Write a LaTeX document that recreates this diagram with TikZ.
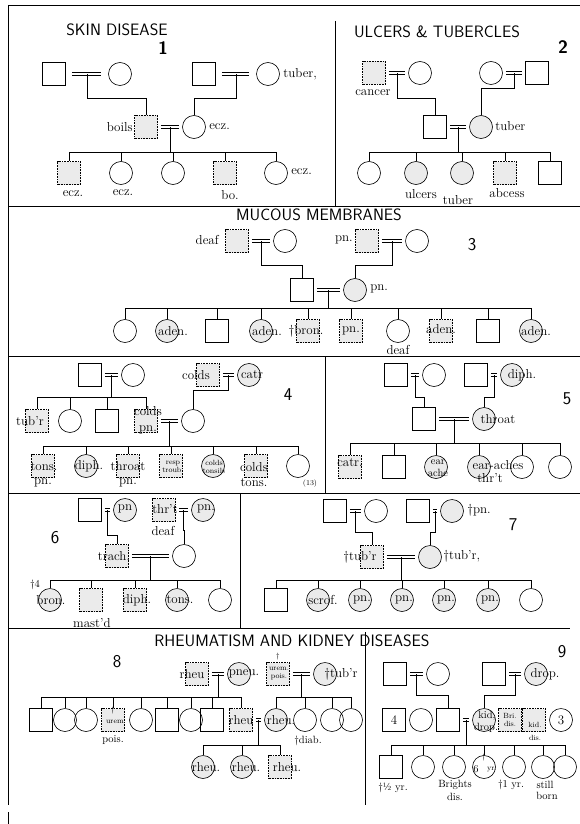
\documentclass[tikz,border=0pt]{standalone}
\usepackage{fontspec}
\usepackage{tikz}
\usetikzlibrary{calc}
\newcommand\pedlab{\fontsize{13}{13}\selectfont\addfontfeature{LetterSpace=7}}
\newcommand\pedmid{\fontsize{10.5}{12}\selectfont}
\newcommand\pedsml{\fontsize{7.5}{8}\selectfont}
\newcommand\pedttl{\sffamily\fontsize{16.5}{16.5}\selectfont\addfontfeature{LetterSpace=9}}

\begin{document}
\begin{tikzpicture}[
    x=1pt, y=-1pt, line width=0.6pt,
    sq/.style={draw, rectangle, minimum size=23pt, inner sep=0pt, font=\pedlab},
    sqa/.style={sq, fill=black!8, densely dotted},
    ci/.style={draw, circle, minimum size=23pt, inner sep=0pt, font=\pedlab},
    cia/.style={ci, fill=black!8},
    mar/.style={double, double distance=2.4pt, shorten <=3pt, shorten >=3pt},
    lab/.style={font=\pedlab, inner sep=0pt},
    mlab/.style={font=\pedmid, inner sep=0pt, align=center},
    slab/.style={font=\pedsml, inner sep=0pt, align=center},
    ttl/.style={font=\pedttl},
    num/.style={font=\sffamily\fontsize{18}{18}\selectfont},
    numb/.style={num, font=\sffamily\bfseries\fontsize{18}{18}\selectfont},
    rulebar/.style={line width=0.9pt}
]
\useasboundingbox (0,0) rectangle (580,824);

\draw[rulebar] (8,5) -- (580,5);
\draw[rulebar] (8,5) -- (8,805);
\draw[rulebar] (8,812) -- (8,824);
\draw[rulebar] (335,21) -- (335,206);
\draw[rulebar] (8,206) -- (580,206);
\draw[rulebar] (8,356) -- (580,356);
\draw[rulebar] (325,356) -- (325,493);
\draw[rulebar] (8,493) -- (580,493);
\draw[rulebar] (240,493) -- (240,628);
\draw[rulebar] (8,628) -- (570,628);
\draw[rulebar] (365,632) -- (365,805);

\node[ttl] (h1) at (117,30) {SKIN DISEASE};
\node[numb] (n1) at (163,48) {1};
\node[sq] (p1a) at (54,74) {};
\node[ci] (p1b) at (120,74) {};
\node[sq] (p1c) at (204,74) {};
\node[ci] (p1d) at (268,74) {};
\node[lab, anchor=west] (l1d) at (283,74) {tuber,};
\node[sqa] (p1e) at (146,127) {};
\node[lab, anchor=east] (l1e) at (133,127) {boils};
\node[ci] (p1f) at (194,127) {};
\node[lab, anchor=west] (l1f) at (209,127) {ecz.};
\node[sqa] (p1k1) at (69,173) {};
\node[lab] (l1k1) at (73,194) {ecz.};
\node[ci] (p1k2) at (121,173) {};
\node[lab] (l1k2) at (123,193) {ecz.};
\node[ci] (p1k3) at (173,173) {};
\node[sqa] (p1k4) at (225,173) {};
\node[lab] (l1k4) at (230,195) {bo.};
\node[ci] (p1k5) at (276,173) {};
\node[lab, anchor=west] (l1k5) at (291,172) {ecz.};
\coordinate (m1a) at ($(p1a)!.5!(p1b)$);
\coordinate (m1b) at ($(p1c)!.5!(p1d)$);
\coordinate (m1c) at ($(p1e)!.5!(p1f)$);
\coordinate (s1) at (0,152);
\draw[mar, shorten <=6pt, shorten >=7pt] (p1a) -- (p1b);
\draw[mar, shorten <=6pt, shorten >=7pt] (p1c) -- (p1d);
\draw[mar] (p1e) -- (p1f);
\draw (m1a) -- ++(0,24) -| (p1e.north);
\draw (m1b) -- ++(0,24) -| (p1f.north);
\draw (m1c) -- (m1c |- s1);
\draw (p1k1.north) -- (p1k1.north |- s1) -- (p1k5.north |- s1) -- (p1k5.north)
      (p1k2.north) -- (p1k2.north |- s1) (p1k3.north) -- (p1k3.north |- s1)
      (p1k4.north) -- (p1k4.north |- s1);

\node[ttl] (h2) at (437,32) {ULCERS \& TUBERCLES};
\node[numb] (n2) at (563,47) {2};
\node[sqa] (p2a) at (374,73) {};
\node[lab] (l2a) at (373,93) {cancer};
\node[ci] (p2b) at (420,73) {};
\node[ci] (p2c) at (491,73) {};
\node[sq] (p2d) at (537,73) {};
\node[sq] (p2e) at (435,127) {};
\node[cia] (p2f) at (481,127) {};
\node[lab, anchor=west] (l2f) at (495,126) {tuber};
\node[ci] (p2k1) at (369,173) {};
\node[cia] (p2k2) at (416,173) {};
\node[lab] (l2k2) at (421,194) {ulcers};
\node[cia] (p2k3) at (462,173) {};
\node[lab] (l2k3) at (458,200) {tuber};
\node[sqa] (p2k4) at (505,173) {};
\node[lab] (l2k4) at (507,193) {abcess};
\node[sq] (p2k5) at (550,173) {};
\coordinate (m2a) at ($(p2a)!.5!(p2b)$);
\coordinate (m2b) at ($(p2c)!.5!(p2d)$);
\coordinate (m2c) at ($(p2e)!.5!(p2f)$);
\coordinate (s2) at (0,152);
\draw[mar] (p2a) -- (p2b);
\draw[mar] (p2c) -- (p2d);
\draw[mar] (p2e) -- (p2f);
\draw (m2a) -- ++(0,25) -| (p2e.north);
\draw (m2b) -- ++(0,15) -| (p2f.north);
\draw (m2c) -- (m2c |- s2);
\draw (p2k1.north) -- (p2k1.north |- s2) -- (p2k5.north |- s2) -- (p2k5.north)
      (p2k2.north) -- (p2k2.north |- s2) (p2k3.north) -- (p2k3.north |- s2)
      (p2k4.north) -- (p2k4.north |- s2);

\node[ttl] (h3) at (319,215) {MUCOUS MEMBRANES};
\node[num] (n3) at (472,245) {3};
\node[sqa] (p3a) at (237,241) {};
\node[lab, anchor=east] (l3a) at (219,240) {deaf};
\node[ci] (p3b) at (285,241) {};
\node[sqa] (p3c) at (367,241) {};
\node[lab, anchor=east] (l3c) at (353,240) {pn.};
\node[ci] (p3d) at (417,241) {};
\node[sq] (p3e) at (302,290) {};
\node[cia] (p3f) at (355,290) {};
\node[lab, anchor=west] (l3f) at (370,289) {pn.};
\node[ci] (p3k1) at (125,331) {};
\node[cia] (p3k2) at (167,331) {};
\node[lab] (l3k2) at (173,331) {aden.};
\node[sq] (p3k3) at (217,331) {};
\node[cia] (p3k4) at (261,331) {};
\node[lab] (l3k4) at (267,331) {aden.};
\node[sqa] (p3k5) at (308,331) {};
\node[lab] (l3k5) at (306,331) {\dag bron.};
\node[sqa] (p3k6) at (351,331) {pn.};
\node[ci] (p3k7) at (398,331) {};
\node[lab] (l3k7) at (398,350) {deaf};
\node[sqa] (p3k8) at (441,331) {};
\node[lab] (l3k8) at (441,329) {aden.};
\node[sq] (p3k9) at (488,331) {};
\node[cia] (p3k10) at (531,331) {};
\node[lab] (l3k10) at (536,331) {aden.};
\coordinate (m3a) at ($(p3a)!.5!(p3b)$);
\coordinate (m3b) at ($(p3c)!.5!(p3d)$);
\coordinate (m3c) at ($(p3e)!.5!(p3f)$);
\coordinate (s3) at (0,308);
\draw[mar] (p3a) -- (p3b);
\draw[mar] (p3c) -- (p3d);
\draw[mar] (p3e) -- (p3f);
\draw (m3a) -- ++(0,24) -| (p3e.north);
\draw (m3b) -- ++(0,24) -| (p3f.north);
\draw (m3c) -- (m3c |- s3);
\draw (p3k1.north) -- (p3k1.north |- s3) -- (p3k10.north |- s3) -- (p3k10.north)
      (p3k2.north) -- (p3k2.north |- s3) (p3k3.north) -- (p3k3.north |- s3)
      (p3k4.north) -- (p3k4.north |- s3) (p3k5.north) -- (p3k5.north |- s3)
      (p3k6.north) -- (p3k6.north |- s3) (p3k7.north) -- (p3k7.north |- s3)
      (p3k8.north) -- (p3k8.north |- s3) (p3k9.north) -- (p3k9.north |- s3);

\node[num] (n4) at (288,395) {4};
\node[sq] (p4a) at (90,375) {};
\node[ci] (p4b) at (133,375) {};
\node[sqa] (p4c) at (208,375) {};
\node[lab] (l4c) at (196,375) {colds};
\node[cia] (p4d) at (249,375) {};
\node[lab] (l4d) at (252,375) {catr};
\node[sqa] (p4e) at (37,421) {};
\node[lab] (l4e) at (30,421) {tub'r};
\node[ci] (p4f) at (70,421) {};
\node[sq] (p4g) at (107,421) {};
\node[sqa] (p4h) at (146,421) {};
\node[lab] (l4h) at (148,411) {colds};
\node[lab] (l4h2) at (148,430) {pn.};
\node[ci] (p4i) at (193,421) {};
\node[sqa] (p4k1) at (43,466) {};
\node[lab] (l4k1) at (44,467) {tons.};
\node[lab] (l4k1b) at (43,483) {pn.};
\node[cia] (p4k2) at (86,466) {};
\node[lab] (l4k2) at (89,466) {diph.};
\node[sqa] (p4k3) at (128,466) {};
\node[lab] (l4k3) at (128,466) {throat};
\node[lab] (l4k3b) at (128,483) {pn.};
\node[sqa] (p4k4) at (171,466) {};
\node[slab] (l4k4) at (173,467) {resp\\troub.};
\node[cia] (p4k5) at (213,466) {};
\node[slab] (l4k5) at (214,467) {colds\\tonsils};
\node[sqa] (p4k6) at (256,466) {};
\node[lab] (l4k6) at (254,467) {colds};
\node[lab] (l4k6b) at (254,483) {tons.};
\node[ci] (p4k7) at (298,466) {};
\node[slab] (l4k7) at (310,484) {(13)};
\coordinate (m4a) at ($(p4a)!.5!(p4b)$);
\coordinate (m4b) at ($(p4c)!.5!(p4d)$);
\coordinate (m4c) at ($(p4h)!.5!(p4i)$);
\coordinate (s4a) at (0,397);
\coordinate (s4b) at (0,446);
\draw[mar] (p4a) -- (p4b);
\draw[mar] (p4c) -- (p4d);
\draw[mar] (p4h) -- (p4i);
\draw (m4a) -- (m4a |- s4a);
\draw (p4e.north) -- (p4e.north |- s4a) -- (p4h.north |- s4a) -- (p4h.north)
      (p4f.north) -- (p4f.north |- s4a) (p4g.north) -- (p4g.north |- s4a);
\draw (m4b) -- ++(0,15) -| (p4i.north);
\draw (m4c) -- (m4c |- s4b);
\draw (p4k1.north) -- (p4k1.north |- s4b) -- (p4k7.north |- s4b) -- (p4k7.north)
      (p4k2.north) -- (p4k2.north |- s4b) (p4k3.north) -- (p4k3.north |- s4b)
      (p4k4.north) -- (p4k4.north |- s4b) (p4k5.north) -- (p4k5.north |- s4b)
      (p4k6.north) -- (p4k6.north |- s4b);

\node[num] (n5) at (567,399) {5};
\node[sq] (p5a) at (396,375) {};
\node[ci] (p5b) at (434,375) {};
\node[sq] (p5c) at (476,375) {};
\node[cia] (p5d) at (512,375) {};
\node[lab] (l5d) at (522,375) {diph.};
\node[sq] (p5e) at (424,419) {};
\node[cia] (p5f) at (484,419) {};
\node[lab] (l5f) at (498,419) {throat};
\node[sqa] (p5k1) at (350,467) {};
\node[lab] (l5k1) at (350,463) {catr.};
\node[sq] (p5k2) at (394,467) {};
\node[cia] (p5k3) at (436,467) {};
\node[mlab] (l5k3) at (438,468) {ear\\ache};
\node[cia] (p5k4) at (479,467) {};
\node[lab] (l5k4) at (498,465) {ear-aches};
\node[lab] (l5k4b) at (490,478) {thr't};
\node[ci] (p5k5) at (522,467) {};
\node[ci] (p5k6) at (560,467) {};
\coordinate (m5a) at ($(p5a)!.5!(p5b)$);
\coordinate (m5b) at ($(p5c)!.5!(p5d)$);
\coordinate (m5c) at ($(p5e)!.5!(p5f)$);
\coordinate (s5) at (0,443);
\draw[mar] (p5a) -- (p5b);
\draw[mar] (p5c) -- (p5d);
\draw[mar] (p5e) -- (p5f);
\draw (m5a) -- ++(0,22) -| (p5e.north);
\draw (m5b) -- ++(0,22) -| (p5f.north);
\draw (m5c) -- (m5c |- s5);
\draw (p5k1.north) -- (p5k1.north |- s5) -- (p5k6.north |- s5) -- (p5k6.north)
      (p5k2.north) -- (p5k2.north |- s5) (p5k3.north) -- (p5k3.north |- s5)
      (p5k4.north) -- (p5k4.north |- s5) (p5k5.north) -- (p5k5.north |- s5);

\node[num] (n6) at (55,538) {6};
\node[sq] (p6a) at (90,510) {};
\node[cia] (p6b) at (125,510) {};
\node[lab] (l6b) at (125,509) {pn};
\node[sqa] (p6c) at (164,510) {};
\node[lab] (l6c) at (165,509) {thr't};
\node[lab] (l6c2) at (163,531) {deaf};
\node[cia] (p6d) at (203,510) {};
\node[lab] (l6d) at (206,509) {pn.};
\node[sqa] (p6e) at (117,556) {};
\node[lab] (l6e) at (114,556) {trach.};
\node[ci] (p6f) at (184,556) {};
\node[cia] (p6k1) at (50,600) {};
\node[lab] (l6k1) at (51,600) {bron.};
\node[mlab] (l6k1b) at (35,585) {\dag 4};
\node[sqa] (p6k2) at (91,600) {};
\node[lab] (l6k2) at (92,623) {mast'd};
\node[sqa] (p6k3) at (135,600) {};
\node[lab] (l6k3) at (137,600) {diph.};
\node[cia] (p6k4) at (177,600) {};
\node[lab] (l6k4) at (180,600) {tons.};
\node[ci] (p6k5) at (220,600) {};
\coordinate (m6a) at ($(p6a)!.5!(p6b)$);
\coordinate (m6b) at ($(p6c)!.5!(p6d)$);
\coordinate (m6c) at ($(p6e)!.5!(p6f)$);
\coordinate (s6) at (0,580);
\draw[mar] (p6a) -- (p6b);
\draw[mar] (p6c) -- (p6d);
\draw[mar] (p6e) -- (p6f);
\draw (m6a) -- ++(0,25) -| (p6e.north);
\draw (m6b) -- ++(0,20) -| (p6f.north);
\draw (m6c) -- (m6c |- s6);
\draw (p6k1.north) -- (p6k1.north |- s6) -- (p6k5.north |- s6) -- (p6k5.north)
      (p6k2.north) -- (p6k2.north |- s6) (p6k3.north) -- (p6k3.north |- s6)
      (p6k4.north) -- (p6k4.north |- s6);

\node[num] (n7) at (513,525) {7};
\node[sq] (p7a) at (335,511) {};
\node[ci] (p7b) at (376,511) {};
\node[sq] (p7c) at (418,511) {};
\node[cia] (p7d) at (452,511) {};
\node[lab, anchor=west] (l7d) at (467,510) {\dag pn.};
\node[sqa] (p7e) at (372,557) {};
\node[lab] (l7e) at (360,557) {\dag tub'r};
\node[cia] (p7f) at (430,557) {};
\node[lab, anchor=west] (l7f) at (443,556) {\dag tub'r,};
\node[sq] (p7k1) at (276,600) {};
\node[cia] (p7k2) at (318,600) {};
\node[lab] (l7k2) at (323,600) {scrof.};
\node[cia] (p7k3) at (360,600) {};
\node[lab] (l7k3) at (362,600) {pn.};
\node[cia] (p7k4) at (402,600) {};
\node[lab] (l7k4) at (404,600) {pn.};
\node[cia] (p7k5) at (444,600) {};
\node[lab] (l7k5) at (446,600) {pn.};
\node[cia] (p7k6) at (488,600) {};
\node[lab] (l7k6) at (490,600) {pn.};
\node[ci] (p7k7) at (531,600) {};
\coordinate (m7a) at ($(p7a)!.5!(p7b)$);
\coordinate (m7b) at ($(p7c)!.5!(p7d)$);
\coordinate (m7c) at ($(p7e)!.5!(p7f)$);
\coordinate (s7) at (0,580);
\draw[mar] (p7a) -- (p7b);
\draw[mar] (p7c) -- (p7d);
\draw[mar] (p7e) -- (p7f);
\draw (m7a) -- ++(0,21) -| (p7e.north);
\draw (m7b) -- ++(0,21) -| (p7f.north);
\draw (m7c) -- (m7c |- s7);
\draw (p7k1.north) -- (p7k1.north |- s7) -- (p7k7.north |- s7) -- (p7k7.north)
      (p7k2.north) -- (p7k2.north |- s7) (p7k3.north) -- (p7k3.north |- s7)
      (p7k4.north) -- (p7k4.north |- s7) (p7k5.north) -- (p7k5.north |- s7)
      (p7k6.north) -- (p7k6.north |- s7);

\node[ttl] (h8) at (292,641) {RHEUMATISM AND KIDNEY DISEASES};
\node[num] (n8) at (117,662) {8};
\node[sqa] (p8a) at (197,674) {};
\node[lab] (l8a) at (192,674) {rheu};
\node[cia] (p8b) at (239,674) {};
\node[lab] (l8b) at (244,674) {pneu.};
\node[sqa] (p8c) at (278,674) {};
\node[slab] (l8c) at (279,674) {urem.\\pois.};
\node[slab] (l8c2) at (278,657) {\dag};
\node[cia] (p8d) at (325,674) {};
\node[lab] (l8d) at (341,674) {\dag tub'r};
\node[sq] (p8k1) at (41,720) {};
\node[ci] (p8k2) at (65,720) {};
\node[ci] (p8k3) at (86,720) {};
\node[sqa] (p8k4) at (113,720) {};
\node[slab] (l8k4) at (113,711) {\dag};
\node[slab] (l8k4b) at (116,722) {urem.};
\node[mlab] (l8k4c) at (113,740) {pois.};
\node[ci] (p8k5) at (141,720) {};
\node[sq] (p8k6) at (167,720) {};
\node[ci] (p8k7) at (191,720) {};
\node[sq] (p8k8) at (212,720) {};
\node[sqa] (p8k9) at (241,720) {};
\node[lab] (l8k9) at (241,720) {rheu};
\node[cia] (p8l1) at (276,720) {};
\node[lab] (l8l1) at (281,720) {rheu.};
\node[ci] (p8l2) at (305,720) {};
\node[mlab] (l8l2) at (308,741) {\dag diab.};
\node[ci] (p8l3) at (332,720) {};
\node[ci] (p8l4) at (351,720) {};
\node[cia] (p8m1) at (203,767) {};
\node[lab] (l8m1) at (206,767) {rheu.};
\node[cia] (p8m2) at (242,767) {};
\node[lab] (l8m2) at (246,767) {rheu.};
\node[sqa] (p8m3) at (280,767) {};
\node[lab] (l8m3) at (287,767) {rheu.};
\coordinate (m8a) at ($(p8a)!.5!(p8b)$);
\coordinate (m8b) at ($(p8c)!.5!(p8d)$);
\coordinate (m8c) at ($(p8k9)!.5!(p8l1)$);
\coordinate (s8a) at (0,697);
\coordinate (s8b) at (0,745);
\draw[mar] (p8a) -- (p8b);
\draw[mar] (p8c) -- (p8d);
\draw[mar] (p8k9) -- (p8l1);
\draw (m8a) -- (m8a |- s8a);
\draw (p8k1.north) -- (p8k1.north |- s8a) -- (p8k9.north |- s8a) -- (p8k9.north)
      (p8k2.north) -- (p8k2.north |- s8a) (p8k3.north) -- (p8k3.north |- s8a)
      (p8k4.north) -- (p8k4.north |- s8a) (p8k5.north) -- (p8k5.north |- s8a)
      (p8k6.north) -- (p8k6.north |- s8a) (p8k7.north) -- (p8k7.north |- s8a)
      (p8k8.north) -- (p8k8.north |- s8a);
\draw (m8b) -- (m8b |- s8a);
\draw (p8l1.north) -- (p8l1.north |- s8a) -- (p8l4.north |- s8a) -- (p8l4.north)
      (p8l2.north) -- (p8l2.north |- s8a) (p8l3.north) -- (p8l3.north |- s8a);
\draw (m8c) -- (m8c |- s8b);
\draw (p8m1.north) -- (p8m1.north |- s8b) -- (p8m3.north |- s8b) -- (p8m3.north)
      (p8m2.north) -- (p8m2.north |- s8b);

\node[num] (n9) at (562,652) {9};
\node[sq] (p9a) at (395,674) {};
\node[ci] (p9b) at (438,674) {};
\node[sq] (p9c) at (494,674) {};
\node[cia] (p9d) at (536,674) {};
\node[lab] (l9d) at (545,674) {drop.};
\node[sq] (p9e) at (394,720) {4};
\node[ci] (p9f) at (421,720) {};
\node[sq] (p9g) at (448,720) {};
\node[cia] (p9h) at (484,720) {};
\node[mlab] (l9h) at (487,716) {kid,};
\node[mlab] (l9h2) at (486,728) {drop.};
\node[sqa] (p9i) at (510,720) {};
\node[slab] (l9i) at (510,720) {Bri.\\dis.};
\node[sqa] (p9j) at (534,720) {};
\node[slab] (l9j) at (535,725) {kid.};
\node[slab] (l9j2) at (535,738) {dis.};
\node[ci] (p9m) at (561,720) {3};
\node[sq] (p9k1) at (391,767) {};
\node[mlab] (l9k1) at (393,788) {\dag½ yr.};
\node[ci] (p9k2) at (423,767) {};
\node[ci] (p9k3) at (454,767) {};
\node[mlab] (l9k3) at (455,785) {Brights};
\node[mlab] (l9k3b) at (455,797) {dis.};
\node[ci] (p9k4) at (484,767) {};
\node[slab] (l9k4) at (484,758) {\dag};
\node[mlab] (l9k4b) at (476,769) {6};
\node[slab] (l9k4c) at (492,770) {yr.};
\node[ci] (p9k5) at (514,767) {};
\node[mlab] (l9k5) at (511,785) {\dag 1 yr.};
\node[ci] (p9k6) at (543,767) {};
\node[ci] (p9k7) at (565,767) {};
\node[mlab] (l9k7) at (545,785) {still};
\node[mlab] (l9k7b) at (547,796) {born};
\coordinate (m9a) at ($(p9a)!.5!(p9b)$);
\coordinate (m9b) at ($(p9c)!.5!(p9d)$);
\coordinate (m9c) at ($(p9g)!.5!(p9h)$);
\coordinate (s9) at (0,745);
\draw[mar] (p9a) -- (p9b);
\draw[mar] (p9c) -- (p9d);
\draw[mar] (p9g) -- (p9h);
\draw (m9a) -- ++(0,21) -| (p9g.north);
\draw (m9b) -- ++(0,21) -| (p9h.north);
\draw (m9c) -- (m9c |- s9);
\draw (p9k1.north) -- (p9k1.north |- s9) -- (p9k7.north |- s9) -- (p9k7.north)
      (p9k2.north) -- (p9k2.north |- s9) (p9k3.north) -- (p9k3.north |- s9)
      (p9k4.north) -- (p9k4.north |- s9) (p9k5.north) -- (p9k5.north |- s9)
      (p9k6.north) -- (p9k6.north |- s9);
\end{tikzpicture}
\end{document}
